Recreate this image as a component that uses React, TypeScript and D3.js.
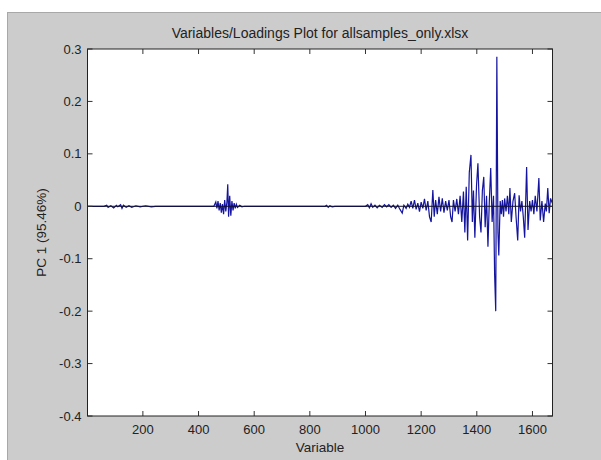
import React from "react";
import * as d3 from "d3";

const titleText = "Variables/Loadings Plot for allsamples_only.xlsx";
const xLabel = "Variable";
const yLabel = "PC 1 (95.46%)";
const xTicks = [200, 400, 600, 800, 1000, 1200, 1400, 1600];
const yTicks = [0.3, 0.2, 0.1, 0, -0.1, -0.2, -0.3, -0.4];
const xDomain = [1, 1672];
const yDomain = [-0.4, 0.3];

// polyline vertices: [variable, loading]
const loadingVertices: [number, number][] = [
  [1, 0], [60, 0], [70, 0.002], [75, -0.002], [85, 0.001], [95, -0.003], [105, 0.002], [110, -0.001],
  [120, 0.003], [125, -0.004], [130, 0.002], [140, -0.002], [150, 0.001], [160, -0.002], [175, 0.001],
  [190, -0.001], [210, 0.001], [230, -0.001], [245, 0], [455, 0], [462, 0.008], [466, -0.004], [470, 0.01],
  [474, -0.008], [478, 0.006], [482, -0.012], [486, 0.004], [490, -0.015], [494, 0.012], [498, -0.01],
  [502, 0.008], [505, 0.042], [508, -0.02], [512, 0.02], [516, -0.018], [520, 0.01], [524, -0.008],
  [528, 0.006], [532, -0.004], [536, 0.004], [540, -0.002], [548, 0.002], [556, -0.001], [565, 0],
  [855, 0], [860, 0.002], [866, -0.002], [872, 0.001], [880, -0.001], [890, 0],
  [1000, 0], [1008, 0.003], [1014, -0.003], [1020, 0.005], [1026, -0.002], [1034, 0.002], [1042, -0.003],
  [1050, 0.002], [1060, -0.002], [1068, 0.003], [1076, -0.001], [1084, 0.003], [1092, -0.002], [1100, 0.002],
  [1108, -0.004], [1116, 0.002], [1124, -0.006], [1132, -0.013], [1138, 0.002], [1146, -0.004], [1152, 0.004],
  [1158, -0.002], [1164, 0.01], [1170, -0.004], [1176, 0.012], [1182, -0.006], [1188, 0.006], [1194, -0.01],
  [1200, 0.008], [1206, -0.004], [1212, 0.014], [1218, -0.008], [1224, 0.01], [1230, -0.02], [1236, -0.03],
  [1242, 0.031], [1247, -0.02], [1252, 0.012], [1258, -0.015], [1264, 0.018], [1270, -0.01], [1276, 0.015],
  [1282, -0.012], [1288, 0.01], [1294, -0.008], [1300, 0.012], [1306, -0.02], [1311, -0.03], [1316, 0.012],
  [1322, -0.01], [1328, 0.014], [1334, -0.015], [1340, 0.02], [1346, -0.03], [1352, 0.028], [1357, -0.05],
  [1362, 0.037], [1367, -0.065], [1373, 0.065], [1379, 0.098], [1384, -0.03], [1388, 0.03], [1393, -0.06],
  [1399, 0.04], [1404, 0.082], [1410, -0.02], [1415, -0.05], [1420, 0.03], [1425, 0.056], [1430, -0.04],
  [1435, 0.02], [1440, -0.077], [1445, 0.01], [1450, 0.073], [1455, -0.03], [1460, 0.02], [1464, -0.13],
  [1468, -0.2], [1472, 0.285], [1476, -0.05], [1479, -0.094], [1484, 0.01], [1488, -0.015], [1492, 0.012],
  [1496, -0.02], [1500, 0.015], [1505, -0.01], [1510, 0.02], [1515, -0.015], [1519, 0.035], [1524, -0.03],
  [1530, 0.01], [1536, 0.025], [1541, -0.02], [1547, -0.065], [1552, 0.021], [1557, -0.01], [1562, 0.01],
  [1567, -0.02], [1572, -0.06], [1579, 0.075], [1584, -0.045], [1590, 0.01], [1595, -0.01], [1600, 0.012],
  [1605, -0.015], [1610, 0.02], [1616, -0.01], [1623, 0.054], [1628, -0.027], [1634, 0.01], [1640, -0.03],
  [1646, 0.005], [1650, -0.01], [1655, 0.035], [1660, -0.013], [1665, 0.015], [1672, 0.005],
];

const W = 601;
const H = 460;
const plot = { left: 87.5, right: 552.5, top: 49, bottom: 416 };
const font = "'Liberation Sans', Arial, sans-serif";

export default function App() {
  const x = d3.scaleLinear().domain(xDomain).range([plot.left, plot.right]);
  const y = d3.scaleLinear().domain(yDomain).range([plot.bottom, plot.top]);
  const line = d3
    .line<[number, number]>()
    .x((d) => x(d[0]))
    .y((d) => y(d[1]));
  const tl = 5;
  const cx = (plot.left + plot.right) / 2;
  const cy = (plot.top + plot.bottom) / 2;
  return (
    <svg
      width={W}
      height={H}
      style={{ position: "absolute", left: 0, top: 0 }}
      fontFamily={font}
    >
      <rect x={0} y={0} width={W} height={H} fill="#ffffff" />
      <rect x={7} y={12} width={W - 7} height={H - 12} fill="#cccccc" />
      <line x1={7} y1={12.5} x2={W} y2={12.5} stroke="#a8a8a8" />
      <line x1={7.5} y1={12} x2={7.5} y2={H} stroke="#a8a8a8" />
      <rect
        x={plot.left}
        y={plot.top}
        width={plot.right - plot.left}
        height={plot.bottom - plot.top}
        fill="#ffffff"
      />
      <path d={line(loadingVertices) || ""} fill="none" stroke="#14149e" strokeWidth={1.2} />
      <line x1={x(xDomain[0])} x2={x(xDomain[1])} y1={y(0)} y2={y(0)} stroke="#101030" strokeWidth={1} />
      {xTicks.map((t) => (
        <g key={"x" + t}>
          <line x1={x(t)} x2={x(t)} y1={plot.bottom} y2={plot.bottom - tl} stroke="#333" />
          <line x1={x(t)} x2={x(t)} y1={plot.top} y2={plot.top + tl} stroke="#333" />
          <text x={x(t)} y={plot.bottom + 18} textAnchor="middle" fontSize={13} fill="#222">
            {t}
          </text>
        </g>
      ))}
      {yTicks.map((t) => (
        <g key={"y" + t}>
          <line x1={plot.left} x2={plot.left + tl} y1={y(t)} y2={y(t)} stroke="#333" />
          <line x1={plot.right} x2={plot.right - tl} y1={y(t)} y2={y(t)} stroke="#333" />
          <text x={plot.left - 6} y={y(t) + 4.5} textAnchor="end" fontSize={13} fill="#222">
            {t === 0 ? "0" : String(t)}
          </text>
        </g>
      ))}
      <rect
        x={plot.left}
        y={plot.top}
        width={plot.right - plot.left}
        height={plot.bottom - plot.top}
        fill="none"
        stroke="#222"
        strokeWidth={1}
      />
      <text x={cx} y={38} textAnchor="middle" fontSize={14} fill="#222">
        {titleText}
      </text>
      <text x={cx} y={452} textAnchor="middle" fontSize={13.5} fill="#222">
        {xLabel}
      </text>
      <text
        transform={`translate(46, ${cy}) rotate(-90)`}
        textAnchor="middle"
        fontSize={13.5}
        fill="#222"
      >
        {yLabel}
      </text>
    </svg>
  );
}
